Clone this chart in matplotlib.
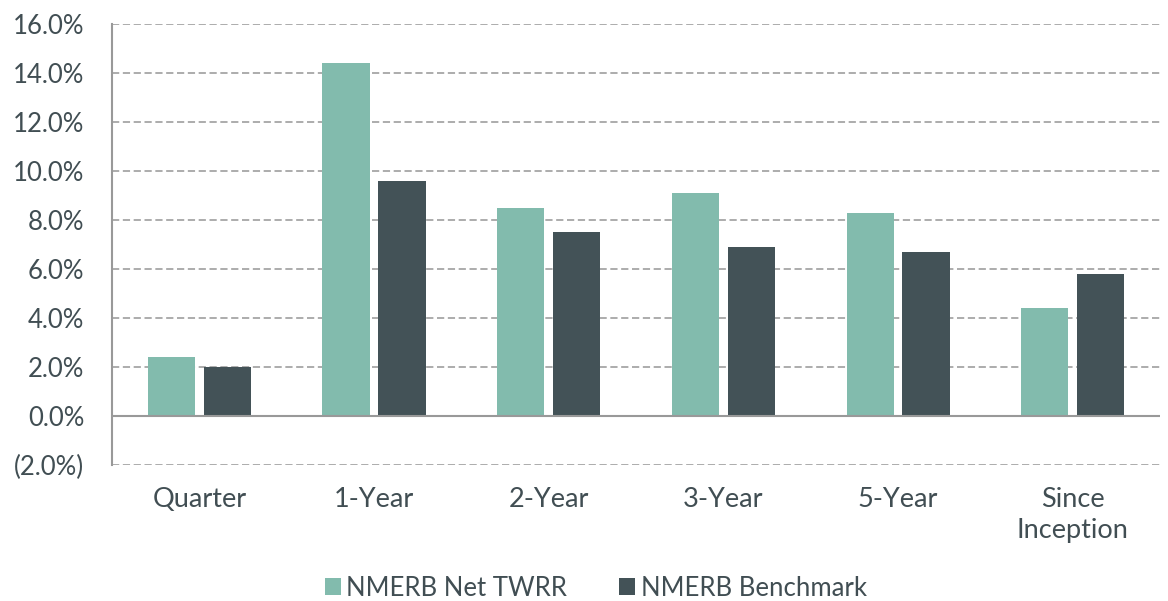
import numpy as np
import matplotlib.pyplot as plt
from matplotlib.ticker import FuncFormatter

categories = ['Quarter', '1-Year', '2-Year', '3-Year', '5-Year', 'Since\nInception']
net_twrr = [2.4, 14.4, 8.5, 9.1, 8.3, 4.4]
benchmark = [2.0, 9.6, 7.5, 6.9, 6.7, 5.8]
series_names = ['NMERB Net TWRR', 'NMERB Benchmark']

plt.rcParams['font.family'] = ['Lato', 'DejaVu Sans']
txt = '#414E53'
c_net = '#82BBAD'
c_bm = '#435257'

fig = plt.figure(figsize=(11.68, 6.01), dpi=100)
ax = fig.add_axes([0.0959, 0.2263, 0.8973, 0.7337])

x = np.arange(len(categories))
w = 0.27
ax.bar(x - 0.16, net_twrr, w, color=c_net, label=series_names[0], zorder=3)
ax.bar(x + 0.16, benchmark, w, color=c_bm, label=series_names[1], zorder=3)

ax.set_xlim(-0.5, len(categories) - 0.5)
ax.set_ylim(-2, 16)
ax.set_yticks(np.arange(-2, 17, 2))

def fmt(v, pos):
    if v < 0:
        return '(%.1f%%)' % abs(v)
    return '%.1f%%' % v
ax.yaxis.set_major_formatter(FuncFormatter(fmt))

ax.yaxis.grid(True, linestyle=(0, (4, 2)), color='#A6A6A6', linewidth=1.3, zorder=0)
ax.axhline(0, color='#999999', linewidth=1.5, zorder=4)

for s in ['top', 'right', 'bottom']:
    ax.spines[s].set_visible(False)
ax.spines['left'].set_color('#999999')
ax.spines['left'].set_linewidth(1.5)

ax.set_xticks(x)
ax.set_xticklabels(categories, fontsize=19.5, color=txt, linespacing=1.3, va='top')
ax.tick_params(axis='x', length=0, pad=16)
ax.tick_params(axis='y', length=0, labelsize=18.5, labelcolor=txt, pad=20)

leg = fig.legend(loc='center', bbox_to_anchor=(0.51, 1 - 588 / 601), ncol=2, frameon=False,
                 fontsize=18.5, handlelength=0.65, handleheight=0.65, handletextpad=0.2,
                 columnspacing=2.0)
for t in leg.get_texts():
    t.set_color(txt)

fig.savefig('out.png', dpi=100)
